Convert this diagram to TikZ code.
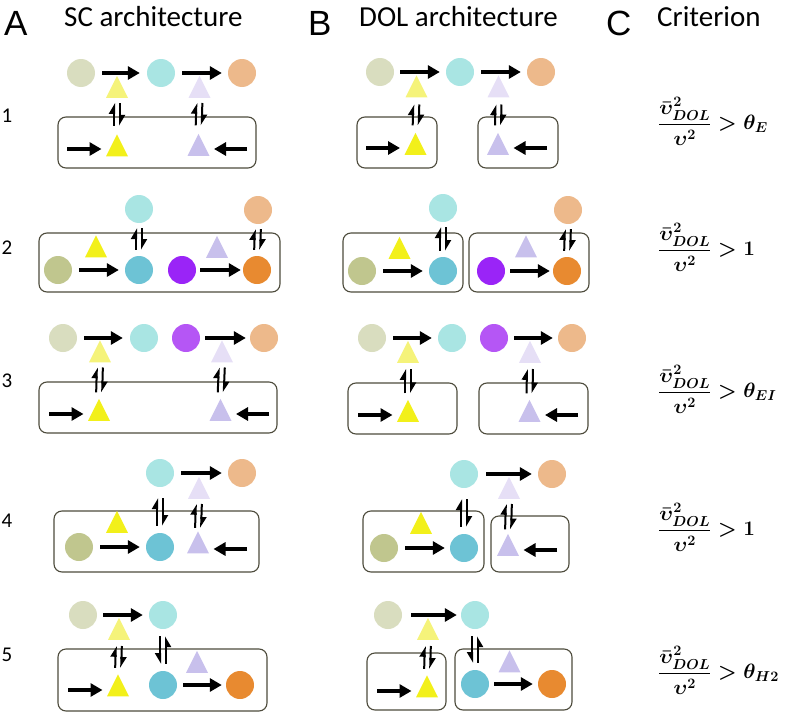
\documentclass[tikz,border=0pt]{standalone}
\usepackage{amsmath}
\usepackage{fontspec}
\setmainfont{Carlito}
\newfontfamily\arialf{Liberation Sans}
\usetikzlibrary{shapes.geometric,arrows.meta}
\definecolor{lolive}{HTML}{D9DDBF}
\definecolor{olive}{HTML}{C0C68E}
\definecolor{lcyan}{HTML}{A9E5E3}
\definecolor{dcyan}{HTML}{6DC3D5}
\definecolor{lorange}{HTML}{EDB98B}
\definecolor{dorange}{HTML}{E88A30}
\definecolor{yel}{HTML}{F2F01A}
\definecolor{lyel}{HTML}{F5F37A}
\definecolor{lav}{HTML}{C8C0EC}
\definecolor{llav}{HTML}{E6DFF6}
\definecolor{purp}{HTML}{9A24F7}
\definecolor{lpurp}{HTML}{B556F5}
\definecolor{boxc}{HTML}{4D4B3C}
\tikzset{
 circ/.style={circle, minimum size=28pt, inner sep=0pt, fill=#1},
 tri/.style={isosceles triangle, shape border rotate=90, isosceles triangle stretches,
   minimum width=22pt, minimum height=22pt, inner sep=0pt, fill=#1},
 arr/.style={line width=4pt, -{Triangle[length=12pt,width=13pt]}},
 boxr/.style={draw=boxc, line width=1.1pt, rounded corners=8pt},
 harp/.style={line width=2pt, -{Triangle[harpoon,length=9pt,width=10pt]}},
 harpr/.style={line width=2pt, -{Triangle[harpoon,swap,length=9pt,width=10pt]}},
 head/.style={font=\fontsize{29}{33}\selectfont, anchor=base west, inner sep=0pt},
 panel/.style={font=\arialf\fontsize{35}{40}\selectfont, anchor=base west, inner sep=0pt},
 rowl/.style={font=\fontsize{21}{24}\selectfont, inner sep=0pt},
 critn/.style={anchor=base west, inner sep=0pt, font=\fontsize{22}{26}\selectfont\boldmath},
}
% equilibrium: #1 lower node, #2 upper node, #3 bottom gap, #4 top gap
\newcommand\eqm[4]{%
 \draw[harp, shorten <=#3, shorten >=#4] ([xshift=-3pt]#1.north) -- ([xshift=-3pt]#2.south);
 \draw[harp, shorten <=#4, shorten >=#3] ([xshift=3pt]#2.south) -- ([xshift=3pt]#1.north);}
\newcommand\eqmr[4]{%
 \draw[harpr, shorten <=#4, shorten >=#3] ([xshift=-3pt]#2.south) -- ([xshift=-3pt]#1.north);
 \draw[harpr, shorten <=#3, shorten >=#4] ([xshift=3pt]#1.north) -- ([xshift=3pt]#2.south);}
% horizontal arrow circle -> circle: #1 from, #2 to, #3 start gap, #4 end gap
\newcommand\carr[4]{\draw[arr, shorten <=#3, shorten >=#4] (#1.east) -- (#1.east -| #2.west);}
% horizontal arrow from free coordinate #1 into triangle #2
\newcommand\tarr[2]{\draw[arr, shorten >=15.5pt] (#1) -- (#1 -| #2.center);}
\newcommand\vfrac{\displaystyle\frac{\bar{\upsilon}^{2}_{DOL}}{\upsilon^{2}}}
\begin{document}
\begin{tikzpicture}[x=1pt,y=-1pt]
\useasboundingbox (0,0) rectangle (793,712);
% headers
\node[panel] (pA) at (4,35) {A};
\node[head] (hA) at (64,27) {SC architecture};
\node[panel] (pB) at (308,35) {B};
\node[head] (hB) at (359,27) {DOL architecture};
\node[panel] (pC) at (606,35) {C};
\node[head] (hC) at (657,27) {Criterion};
% row labels
\node[rowl] (r1) at (7,116) {1};
\node[rowl] (r2) at (7,248) {2};
\node[rowl] (r3) at (7,381) {3};
\node[rowl] (r4) at (7,521) {4};
\node[rowl] (r5) at (7,655) {5};
% criteria
\node[critn] (k1) at (658,129.5) {$\vfrac\mathrel{>}\theta_E$};
\node[critn] (k2) at (658,255.5) {$\vfrac\mathrel{>}1$};
\node[critn] (k3) at (658,397.5) {$\vfrac\mathrel{>}\theta_{EI}$};
\node[critn] (k4) at (658,535.5) {$\vfrac\mathrel{>}1$};
\node[critn] (k5) at (658,678.5) {$\vfrac\mathrel{>}\theta_{H2}$};

%%%%%%%%%%%%%%%% Column A
% Row 1
\draw[boxr] (58,117) rectangle (256,168);
\node[circ=lolive] (c1a) at (81,73) {};
\node[circ=lcyan] (c1b) at (161,73) {};
\node[circ=lorange] (c1c) at (242,73) {};
\carr{c1a}{c1b}{7pt}{7pt}
\carr{c1b}{c1c}{7pt}{6pt}
\node[tri=lyel] (t1y) at (117,91) {};
\node[tri=llav] (t1l) at (199.5,91) {};
\node[tri=yel] (t1Y) at (117,149.5) {};
\node[tri=lav] (t1L) at (198.5,149) {};
\coordinate (s1a) at (67,149);
\coordinate (s1b) at (247,149);
\tarr{s1a}{t1Y}
\tarr{s1b}{t1L}
\eqm{t1Y}{t1y}{8pt}{5pt}
\eqm{t1L}{t1l}{8pt}{5pt}
% Row 2
\draw[boxr] (39,233) rectangle (280,292);
\node[circ=lcyan] (c2t1) at (139,209) {};
\node[circ=lorange] (c2t2) at (258,210) {};
\node[circ=olive] (c2a) at (58,270) {};
\node[tri=yel] (t2y) at (96,250.5) {};
\node[circ=dcyan] (c2b) at (139,270) {};
\node[circ=purp] (c2p) at (182,270) {};
\node[tri=lav] (t2l) at (217,251) {};
\node[circ=dorange] (c2o) at (257,270) {};
\carr{c2a}{c2b}{7pt}{6pt}
\carr{c2p}{c2o}{4pt}{2pt}
\eqm{c2b}{c2t1}{6pt}{5pt}
\eqm{c2o}{c2t2}{6pt}{5pt}
% Row 3
\draw[boxr] (39,382) rectangle (277,433);
\node[circ=lolive] (c3a) at (63,338) {};
\node[circ=lcyan] (c3b) at (144,338) {};
\node[circ=lpurp] (c3p) at (186,338) {};
\node[circ=lorange] (c3o) at (264,338) {};
\carr{c3a}{c3b}{7pt}{7pt}
\carr{c3p}{c3o}{5pt}{4pt}
\node[tri=lyel] (t3y) at (100,355.5) {};
\node[tri=llav] (t3l) at (222,355.5) {};
\node[tri=yel] (t3Y) at (99,414) {};
\node[tri=lav] (t3L) at (220.5,414) {};
\coordinate (s3a) at (49,414);
\coordinate (s3b) at (269,414);
\tarr{s3a}{t3Y}
\tarr{s3b}{t3L}
\eqm{t3Y}{t3y}{6pt}{5pt}
\eqm{t3L}{t3l}{6pt}{5pt}
% Row 4
\draw[boxr] (54,511) rectangle (259,572);
\node[circ=lcyan] (c4t) at (160,473) {};
\node[circ=lorange] (c4o) at (242,473) {};
\carr{c4t}{c4o}{7pt}{6pt}
\node[tri=llav] (t4l) at (199,492) {};
\node[tri=yel] (t4y) at (117,526) {};
\node[circ=olive] (c4a) at (79,547) {};
\node[circ=dcyan] (c4b) at (160,547) {};
\node[tri=lav] (t4L) at (198,546.5) {};
\carr{c4a}{c4b}{7pt}{6pt}
\coordinate (s4b) at (247,549);
\tarr{s4b}{t4L}
\eqm{c4b}{c4t}{7pt}{11pt}
\eqm{t4L}{t4l}{3pt}{5pt}
% Row 5
\draw[boxr] (58,649) rectangle (267,711);
\node[circ=lolive] (c5a) at (83,615) {};
\node[circ=lcyan] (c5b) at (163,615) {};
\carr{c5a}{c5b}{6pt}{6pt}
\node[tri=lyel] (t5y) at (119,633) {};
\node[tri=yel] (t5Y) at (118,689.5) {};
\node[circ=dcyan] (c5c) at (163,685) {};
\node[tri=lav] (t5L) at (197,666) {};
\node[circ=dorange] (c5o) at (240,685) {};
\coordinate (s5a) at (68,690);
\tarr{s5a}{t5Y}
\carr{c5c}{c5o}{6pt}{4pt}
\eqm{t5Y}{t5y}{6pt}{6pt}
\eqmr{c5c}{c5b}{7pt}{7pt}

%%%%%%%%%%%%%%%% Column B
% Row 1
\draw[boxr] (357,117) rectangle (437,168);
\draw[boxr] (478,117) rectangle (558,168);
\node[circ=lolive] (d1a) at (380,72) {};
\node[circ=lcyan] (d1b) at (460,72) {};
\node[circ=lorange] (d1c) at (541,72) {};
\carr{d1a}{d1b}{6pt}{6pt}
\carr{d1b}{d1c}{7pt}{6pt}
\node[tri=lyel] (u1y) at (416.5,90.5) {};
\node[tri=llav] (u1l) at (498.5,90.5) {};
\node[tri=yel] (u1Y) at (415.5,148) {};
\node[tri=lav] (u1L) at (498,148) {};
\coordinate (v1a) at (366,148);
\coordinate (v1b) at (547,148);
\tarr{v1a}{u1Y}
\tarr{v1b}{u1L}
\eqm{u1Y}{u1y}{7pt}{7pt}
\eqm{u1L}{u1l}{7pt}{7pt}
% Row 2
\draw[boxr] (343,233) rectangle (463,292);
\draw[boxr] (469,233) rectangle (589,292);
\node[circ=lcyan] (e2t1) at (443,208) {};
\node[circ=lorange] (e2t2) at (568,210) {};
\node[circ=olive] (e2a) at (362,271) {};
\node[tri=yel] (v2y) at (399.5,252) {};
\node[circ=dcyan] (e2b) at (443,271) {};
\node[circ=purp] (e2p) at (491,271) {};
\node[tri=lav] (v2l) at (526,250.5) {};
\node[circ=dorange] (e2o) at (567,271) {};
\carr{e2a}{e2b}{7pt}{6pt}
\carr{e2p}{e2o}{5pt}{3pt}
\eqm{e2b}{e2t1}{6pt}{5pt}
\eqm{e2o}{e2t2}{6pt}{5pt}
% Row 3
\draw[boxr] (348,383) rectangle (457,434);
\draw[boxr] (479,383) rectangle (588,434);
\node[circ=lolive] (f3a) at (372,338) {};
\node[circ=lcyan] (f3b) at (452,338) {};
\node[circ=lpurp] (f3p) at (494,338) {};
\node[circ=lorange] (f3o) at (572,338) {};
\carr{f3a}{f3b}{7pt}{6pt}
\carr{f3p}{f3o}{6pt}{5pt}
\node[tri=lyel] (w3y) at (408,356) {};
\node[tri=llav] (w3l) at (530,356) {};
\node[tri=yel] (w3Y) at (408,415) {};
\node[tri=lav] (w3L) at (529.5,415) {};
\coordinate (v3a) at (358,415);
\coordinate (v3b) at (578,415);
\tarr{v3a}{w3Y}
\tarr{v3b}{w3L}
\eqm{w3Y}{w3y}{6pt}{6pt}
\eqm{w3L}{w3l}{6pt}{6pt}
% Row 4
\draw[boxr] (363,511) rectangle (484,572);
\draw[boxr] (491,516) rectangle (569,572);
\node[circ=lcyan] (g4t) at (464,474) {};
\node[circ=lorange] (g4o) at (552,474) {};
\carr{g4t}{g4o}{8pt}{6pt}
\node[tri=llav] (x4l) at (509,492) {};
\node[tri=yel] (x4y) at (421,527) {};
\node[circ=olive] (g4a) at (384,548) {};
\node[circ=dcyan] (g4b) at (464,548) {};
\node[tri=lav] (x4L) at (508,549) {};
\carr{g4a}{g4b}{7pt}{5pt}
\coordinate (v4b) at (557,550);
\tarr{v4b}{x4L}
\eqm{g4b}{g4t}{7pt}{11pt}
\eqm{x4L}{x4l}{4pt}{5pt}
% Row 5
\draw[boxr] (367,653) rectangle (446,710);
\draw[boxr] (455,649) rectangle (572,710);
\node[circ=lolive] (h5a) at (388,615) {};
\node[circ=lcyan] (h5b) at (475,615) {};
\carr{h5a}{h5b}{9pt}{4pt}
\node[tri=lyel] (y5y) at (428,633) {};
\node[tri=yel] (y5Y) at (427,690.5) {};
\node[circ=dcyan] (h5c) at (475,684) {};
\node[tri=lav] (y5L) at (509.5,665.5) {};
\node[circ=dorange] (h5o) at (552,684) {};
\coordinate (v5a) at (377,691);
\tarr{v5a}{y5Y}
\carr{h5c}{h5o}{5pt}{5pt}
\eqm{y5Y}{y5y}{6pt}{6pt}
\eqmr{h5c}{h5b}{7pt}{7pt}
\end{tikzpicture}
\end{document}
